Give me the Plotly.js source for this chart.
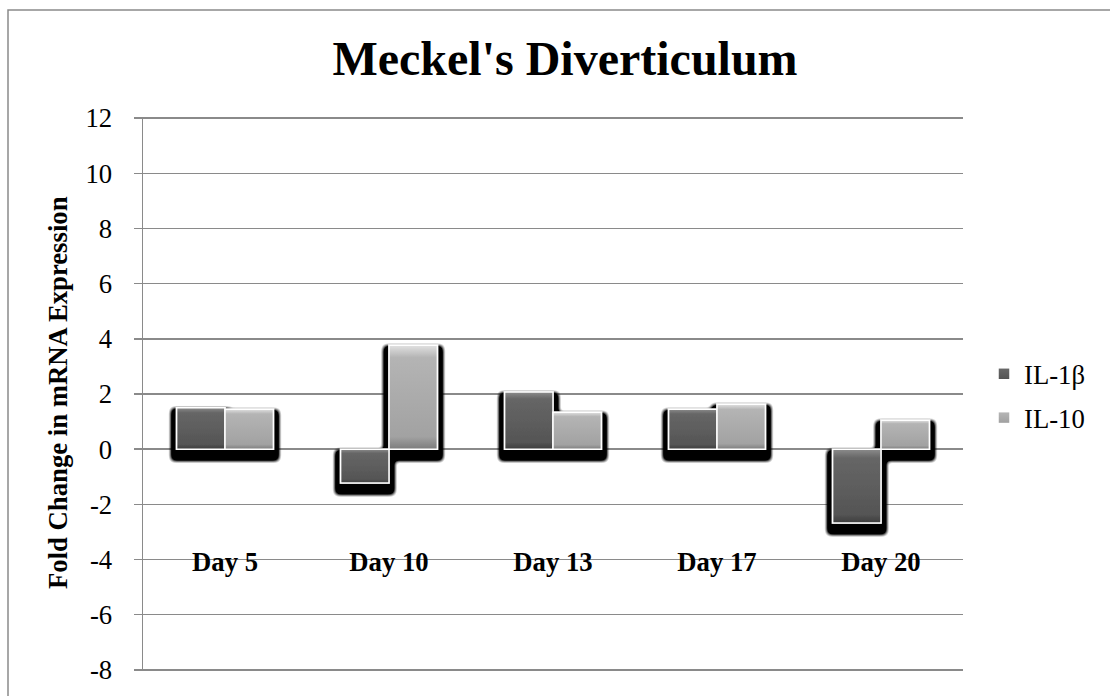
<!DOCTYPE html>
<html>
<head>
<meta charset="utf-8">
<script src="https://cdn.plot.ly/plotly-3.0.1.min.js"></script>
<style>
  html, body { margin: 0; padding: 0; background: #fff; }
  #chart { width: 1110px; height: 696px; }
</style>
</head>
<body>
<div id="chart"></div>
<script>
// ---- data ----
const categories = ["Day 5", "Day 10", "Day 13", "Day 17", "Day 20"];
const seriesNames = ["IL-1\u03b2", "IL-10"];
const il1b = [1.5, -1.23, 2.07, 1.45, -2.68];
const il10 = [1.45, 3.77, 1.34, 1.63, 1.05];
const yTickVals = [-8, -6, -4, -2, 0, 2, 4, 6, 8, 10, 12];
const chartTitle = "Meckel's Diverticulum";
const yTitle = "Fold Change in mRNA Expression";

// ---- layout helpers (pixel -> paper) ----
const W = 1110, H = 696;
const M = { l: 143, r: 147, t: 117, b: 25 };
const PW = W - M.l - M.r, PH = H - M.t - M.b;
const px = x => (x - M.l) / PW;
const py = y => (H - M.b - y) / PH;

const FONT = "Liberation Serif";
const GRID = "#8a8a8a";

const traces = [
  {
    type: "bar", name: seriesNames[0], x: categories, y: il1b,
    marker: { color: "#5a5a5a", line: { color: "#ffffff", width: 1.5 } },
    legendgroup: "a"
  },
  {
    type: "bar", name: seriesNames[1], x: categories, y: il10,
    marker: { color: "#a6a6a6", line: { color: "#ffffff", width: 1.5 } },
    legendgroup: "b"
  }
];

const layout = {
  width: W, height: H,
  margin: M,
  paper_bgcolor: "#ffffff", plot_bgcolor: "#ffffff",
  barmode: "group", bargap: 0.41, bargroupgap: 0,
  font: { family: FONT, color: "#000", size: 26.7 },
  title: {
    text: "<b>" + chartTitle + "</b>",
    font: { family: FONT, size: 48, color: "#000" },
    x: px(565), xref: "paper", xanchor: "center",
    y: 1 - 58 / H, yref: "container", yanchor: "middle"
  },
  xaxis: {
    type: "category",
    anchor: "free", position: 0.23,
    showline: false, showgrid: false, zeroline: false, ticks: "",
    tickfont: { family: FONT, size: 26.7, color: "#000", weight: "bold" },
    fixedrange: true
  },
  yaxis: {
    range: [-8.04, 12.04], tickvals: yTickVals, ticktext: yTickVals.map(String),
    showline: true, linecolor: GRID, linewidth: 1.5,
    showgrid: true, gridcolor: GRID, gridwidth: 1.5,
    zeroline: false,
    ticks: "outside", ticklen: 8, tickcolor: GRID, tickwidth: 1.5,
    tickfont: { family: FONT, size: 26.7, color: "#000" },
    ticklabelstandoff: 16,
    fixedrange: true
  },
  showlegend: true,
  legend: {
    x: px(984), xanchor: "left", y: py(350), yanchor: "top",
    font: { family: FONT, size: 26.7, color: "#000" },
    traceorder: "grouped", tracegroupgap: 6,
    bgcolor: "rgba(0,0,0,0)"
  },
  annotations: [
    {
      text: "<b>" + yTitle + "</b>", textangle: -90,
      xref: "paper", yref: "paper", x: px(58), y: py(393),
      xanchor: "center", yanchor: "middle", showarrow: false,
      font: { family: FONT, size: 26.7, color: "#000" }
    }
  ],
  shapes: [
    {
      type: "rect", xref: "paper", yref: "paper", layer: "below",
      x0: px(8), x1: px(1125), y0: py(712), y1: py(10),
      line: { color: GRID, width: 1.5 }, fillcolor: "rgba(0,0,0,0)"
    }
  ]
};

Plotly.newPlot("chart", traces, layout, { displayModeBar: false, staticPlot: true }).then(gd => {
  const svg = gd.querySelector("svg.main-svg");
  const NS = "http://www.w3.org/2000/svg";
  const defs = svg.querySelector("defs") || svg.insertBefore(document.createElementNS(NS, "defs"), svg.firstChild);
  defs.insertAdjacentHTML("beforeend", `
    <linearGradient id="gDark" x1="0" y1="0" x2="0" y2="1">
      <stop offset="0" stop-color="#8c8c8c"/>
      <stop offset="0.12" stop-color="#666"/>
      <stop offset="0.88" stop-color="#555"/>
      <stop offset="1" stop-color="#3c3c3c"/>
    </linearGradient>
    <linearGradient id="gLight" x1="0" y1="0" x2="0" y2="1">
      <stop offset="0" stop-color="#e2e2e2"/>
      <stop offset="0.12" stop-color="#b4b4b4"/>
      <stop offset="0.88" stop-color="#a2a2a2"/>
      <stop offset="1" stop-color="#7c7c7c"/>
    </linearGradient>
    <filter id="barShadow" x="-20%" y="-20%" width="140%" height="140%">
      <feMorphology in="SourceAlpha" operator="dilate" radius="4" result="d"/>
      <feGaussianBlur in="d" stdDeviation="2.5" result="b"/>
      <feOffset in="b" dx="0" dy="6" result="o"/>
      <feComponentTransfer in="o" result="s">
        <feFuncA type="linear" slope="2.6" intercept="-0.2"/>
      </feComponentTransfer>
      <feMerge><feMergeNode in="s"/><feMergeNode in="SourceGraphic"/></feMerge>
    </filter>`);
  const fills = ["url(#gDark)", "url(#gLight)"];
  gd.querySelectorAll(".barlayer .trace").forEach((t, i) => {
    t.querySelectorAll("path").forEach(p => { p.style.fill = fills[i]; });
  });
  const bl = gd.querySelector(".barlayer");
  if (bl) bl.setAttribute("filter", "url(#barShadow)");
  gd.querySelectorAll(".legend .traces").forEach((t, i) => {
    t.querySelectorAll(".legendpoints path").forEach(p => { p.style.fill = fills[i]; });
  });
});
</script>
</body>
</html>
